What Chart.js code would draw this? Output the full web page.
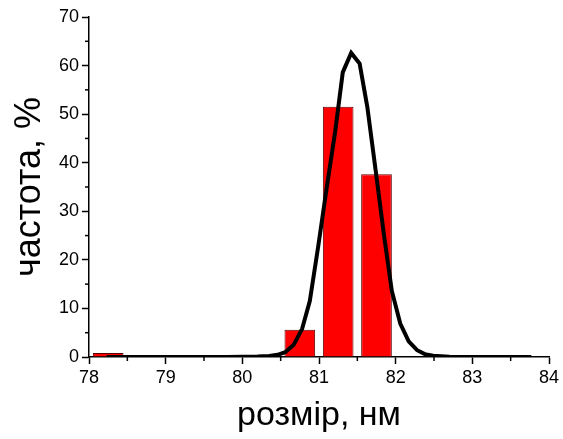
<!DOCTYPE html>
<html>
<head>
<meta charset="utf-8">
<script src="https://cdn.jsdelivr.net/npm/chart.js@4.4.1/dist/chart.umd.min.js"></script>
<style>
  html, body { margin: 0; padding: 0; background: #fff; }
  #wrap { width: 563px; height: 439px; }
</style>
</head>
<body>
<div id="wrap"><canvas id="c" width="563" height="439"></canvas></div>
<script>
// Histogram bins (centres, nm) and frequencies (%)
const binCentres = [78.25, 80.75, 81.25, 81.75];
const binFreq    = [0.8, 5.6, 51.5, 37.6];

// Fitted distribution curve
const curveX = [78.23, 79.0, 79.8, 80.2, 80.35, 80.46, 80.56, 80.67, 80.78, 80.88, 80.99, 81.10, 81.21, 81.31,
                81.42, 81.53, 81.63, 81.74, 81.85, 81.95, 82.06, 82.17, 82.28, 82.38, 82.49, 82.70, 83.00, 83.77];
const curveY = [0.0, 0.0, 0.02, 0.08, 0.2, 0.45, 1.0, 2.5, 5.8, 11.5, 22.8, 34.8, 46.3, 58.6,
                62.6, 60.4, 51.5, 38.3, 24.8, 13.6, 6.9, 3.2, 1.4, 0.6, 0.25, 0.06, 0.02, 0.0];

const xTitle = 'розмір, нм';
const yTitle = 'частота, %';

const FONT = "'Liberation Sans', Arial, Helvetica, sans-serif";

const barData = binCentres.map((x, i) => ({ x: x, y: binFreq[i] }));
const lineData = curveX.map((x, i) => ({ x: x, y: curveY[i] }));

// minor ticks drawn at midpoints between major ticks
const minorTicks = {
  id: 'minorTicks',
  afterDraw(chart) {
    const ctx = chart.ctx;
    ctx.save();
    ctx.strokeStyle = '#000';
    ctx.lineWidth = 1.5;
    const xs = chart.scales.x, ys = chart.scales.y;
    const xt = xs.ticks.map(t => t.value);
    for (let i = 0; i < xt.length - 1; i++) {
      const px = xs.getPixelForValue((xt[i] + xt[i + 1]) / 2);
      ctx.beginPath();
      ctx.moveTo(px, ys.bottom);
      ctx.lineTo(px, ys.bottom + 4);
      ctx.stroke();
    }
    const yt = ys.ticks.map(t => t.value);
    for (let i = 0; i < yt.length - 1; i++) {
      const py = ys.getPixelForValue((yt[i] + yt[i + 1]) / 2);
      ctx.beginPath();
      ctx.moveTo(xs.left, py);
      ctx.lineTo(xs.left - 4, py);
      ctx.stroke();
    }
    ctx.restore();
  }
};

new Chart(document.getElementById('c'), {
  type: 'bar',
  data: {
    datasets: [
      {
        type: 'line',
        data: lineData,
        borderColor: '#000',
        borderWidth: 4,
        pointRadius: 0,
        tension: 0,
        fill: false,
        borderJoinStyle: 'miter',
        order: 0
      },
      {
        type: 'bar',
        data: barData,
        backgroundColor: '#ff0000',
        borderColor: '#5a0000',
        borderWidth: 1,
        barPercentage: 0.8,
        categoryPercentage: 1.0,
        order: 1
      }
    ]
  },
  options: {
    responsive: false,
    animation: false,
    devicePixelRatio: 1,
    layout: { padding: { top: 17, right: 14, bottom: 0, left: 0 } },
    plugins: { legend: { display: false }, tooltip: { enabled: false } },
    scales: {
      x: {
        type: 'linear',
        min: 78, max: 84,
        offset: false,
        grid: { display: true, offset: false, drawOnChartArea: false, drawTicks: true, tickLength: 7, tickWidth: 1.5, tickColor: '#000' },
        border: { display: true, color: '#000', width: 1.5 },
        ticks: { stepSize: 1, color: '#000', padding: 3, font: { family: FONT, size: 18 }, maxRotation: 0 },
        title: { display: true, text: xTitle, color: '#000', font: { family: FONT, size: 34 }, padding: 3 },
        afterFit(scale) { scale.height = 82; }
      },
      y: {
        type: 'linear',
        min: 0, max: 70,
        grid: { display: true, drawOnChartArea: false, drawTicks: true, tickLength: 7, tickWidth: 1.5, tickColor: '#000' },
        border: { display: true, color: '#000', width: 1.5 },
        ticks: { stepSize: 10, color: '#000', padding: 3, font: { family: FONT, size: 18 } },
        title: { display: true, text: yTitle, color: '#000', font: { family: FONT, size: 36 }, padding: 8 },
        afterFit(scale) { scale.width = 89; }
      }
    }
  },
  plugins: [minorTicks]
});
</script>
</body>
</html>
